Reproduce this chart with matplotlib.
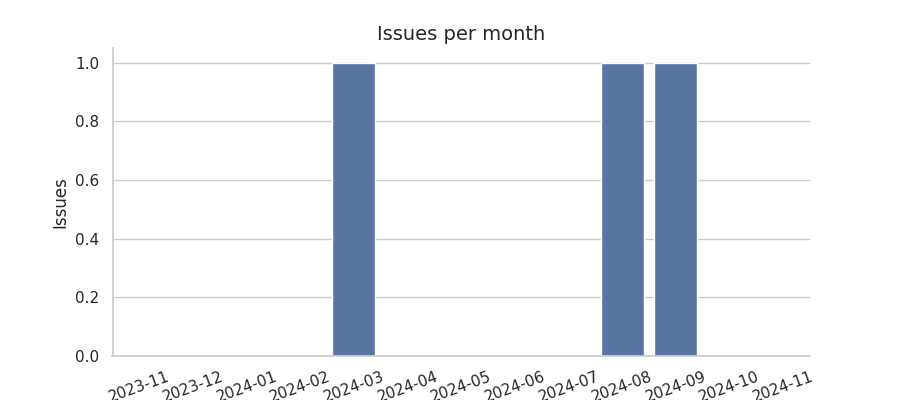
import matplotlib
matplotlib.use("Agg")
import matplotlib.pyplot as plt
import seaborn as sns
import pandas as pd

months = ["2023-11", "2023-12", "2024-01", "2024-02", "2024-03", "2024-04", "2024-05",
          "2024-06", "2024-07", "2024-08", "2024-09", "2024-10", "2024-11"]
issues = [0, 0, 0, 0, 1, 0, 0, 0, 0, 1, 1, 0, 0]

sns.set_theme(style="whitegrid")
df = pd.DataFrame({"month": months, "issues": issues})

fig, ax = plt.subplots(figsize=(9, 4), dpi=100)
sns.barplot(data=df, x="month", y="issues", color="#4c72b0", ax=ax)
ax.set_title("Issues per month", fontsize=14)
ax.set_xlabel("")
ax.set_ylabel("Issues")
plt.xticks(rotation=20)
sns.despine()

fig.savefig("out.png")
